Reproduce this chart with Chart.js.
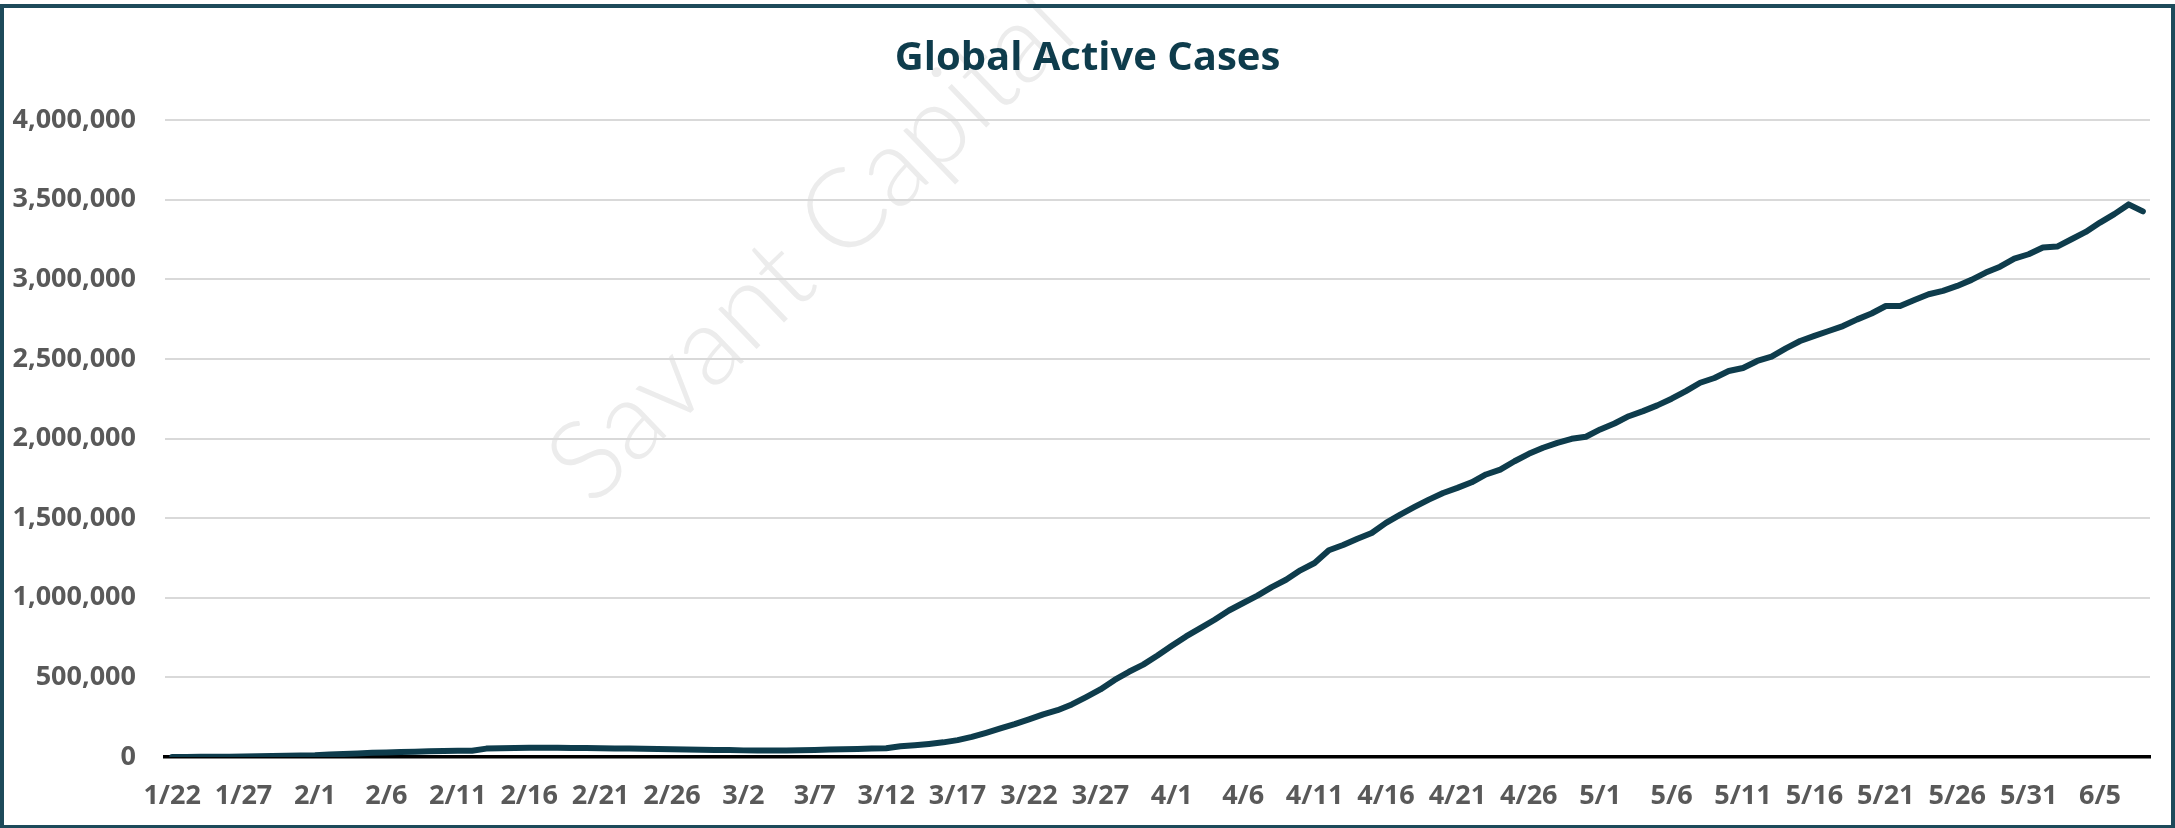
<!DOCTYPE html>
<html>
<head>
<meta charset="utf-8">
<script src="https://cdn.jsdelivr.net/npm/chart.js@4.4.0/dist/chart.umd.min.js"></script>
<style>
  html, body { margin: 0; padding: 0; background: #fff; }
  #myChart { display: block; }
</style>
</head>
<body>
<canvas id="myChart" width="2175" height="828"></canvas>
<script>
// dates on the x axis, one per day
const dates = [
  "1/22","1/23","1/24","1/25","1/26","1/27","1/28","1/29","1/30","1/31",
  "2/1","2/2","2/3","2/4","2/5","2/6","2/7","2/8","2/9","2/10",
  "2/11","2/12","2/13","2/14","2/15","2/16","2/17","2/18","2/19","2/20",
  "2/21","2/22","2/23","2/24","2/25","2/26","2/27","2/28","2/29",
  "3/1","3/2","3/3","3/4","3/5","3/6","3/7","3/8","3/9","3/10",
  "3/11","3/12","3/13","3/14","3/15","3/16","3/17","3/18","3/19","3/20",
  "3/21","3/22","3/23","3/24","3/25","3/26","3/27","3/28","3/29","3/30","3/31",
  "4/1","4/2","4/3","4/4","4/5","4/6","4/7","4/8","4/9","4/10",
  "4/11","4/12","4/13","4/14","4/15","4/16","4/17","4/18","4/19","4/20",
  "4/21","4/22","4/23","4/24","4/25","4/26","4/27","4/28","4/29","4/30",
  "5/1","5/2","5/3","5/4","5/5","5/6","5/7","5/8","5/9","5/10",
  "5/11","5/12","5/13","5/14","5/15","5/16","5/17","5/18","5/19","5/20",
  "5/21","5/22","5/23","5/24","5/25","5/26","5/27","5/28","5/29","5/30","5/31",
  "6/1","6/2","6/3","6/4","6/5","6/6","6/7","6/8"
];

// global active cases
const activeCases = [
  510, 600, 880, 1360, 2010, 2780, 5340, 5920, 7800, 9370,
  11490, 16110, 18860, 22640, 26150, 28640, 31260, 33230, 35370, 37470,
  38900, 39410, 52660, 55710, 56860, 57770, 58470, 58190, 57040, 55940,
  55710, 53300, 53350, 51600, 49700, 48200, 46500, 45300, 44600,
  43400, 41600, 40900, 40900, 41200, 42600, 44700, 46500, 47900, 50300,
  52800, 55300, 67000, 74000, 82000, 92000, 106000, 126000, 152000, 180000,
  206000, 236000, 268000, 294000, 330000, 376000, 424000, 484000, 535000, 580000, 637000,
  698000, 757000, 809000, 862000, 920000, 967000, 1013000, 1067000, 1113000, 1172000,
  1218000, 1298000, 1331000, 1371000, 1407000, 1470000, 1522000, 1570000, 1616000, 1658000,
  1690000, 1725000, 1774000, 1805000, 1857000, 1904000, 1942000, 1973000, 1998000, 2011000,
  2057000, 2094000, 2140000, 2172000, 2208000, 2250000, 2298000, 2350000, 2380000, 2424000,
  2443000, 2487000, 2514000, 2566000, 2612000, 2644000, 2675000, 2706000, 2748000, 2785000,
  2832000, 2832000, 2870000, 2906000, 2927000, 2958000, 2996000, 3042000, 3079000, 3130000, 3157000,
  3199000, 3205000, 3251000, 3297000, 3356000, 3409000, 3470000, 3426000
];

const labelEvery = 5;
const yMax = 4000000;
const yStep = 500000;

const teal = '#0e3c4c';
const tickGray = '#595959';

// faint watermark + frame around the picture
const decorPlugin = {
  id: 'decor',
  beforeDraw(chart) {
    const ctx = chart.ctx;
    ctx.save();
    ctx.fillStyle = '#ececec';
    ctx.font = '300 111px Lato, "Open Sans", sans-serif';
    ctx.textBaseline = 'alphabetic';
    ctx.translate(592, 508);
    ctx.rotate(-44 * Math.PI / 180);
    ctx.fillText('Savant Capital', 0, 0);
    ctx.restore();
  },
  afterDraw(chart) {
    const ctx = chart.ctx;
    ctx.save();
    ctx.strokeStyle = '#1d4a5a';
    ctx.lineWidth = 4;
    ctx.strokeRect(2, 6, chart.width - 4, chart.height - 7);
    ctx.restore();
  }
};

new Chart(document.getElementById('myChart'), {
  type: 'line',
  data: {
    labels: dates,
    datasets: [{
      label: 'Global Active Cases',
      data: activeCases,
      borderColor: teal,
      backgroundColor: teal,
      borderWidth: 6,
      pointRadius: 0,
      tension: 0,
      borderCapStyle: 'round',
      borderJoinStyle: 'round',
      fill: false
    }]
  },
  options: {
    responsive: false,
    animation: false,
    devicePixelRatio: 1,
    layout: {
      padding: { left: 0, right: 0, top: 0, bottom: 0 }
    },
    plugins: {
      legend: { display: false },
      tooltip: { enabled: false },
      title: {
        display: true,
        text: 'Global Active Cases',
        color: teal,
        font: { family: '"Open Sans", sans-serif', size: 40, weight: 'bold' },
        padding: { top: 35, bottom: 37 }
      }
    },
    scales: {
      x: {
        offset: true,
        grid: { display: false, drawTicks: false },
        border: { display: true, color: '#000000', width: 3.5 },
        ticks: {
          autoSkip: false,
          maxRotation: 0,
          minRotation: 0,
          padding: 23,
          color: tickGray,
          font: { family: '"Open Sans", sans-serif', size: 27, weight: 'bold' },
          callback: function(val, idx) {
            return idx % labelEvery === 0 ? dates[idx] : '';
          }
        },
        afterFit: function(scale) { scale.height = 71; }
      },
      y: {
        min: 0,
        max: yMax,
        grid: { color: '#d9d9d9', lineWidth: 2, drawTicks: false },
        border: { display: false },
        ticks: {
          stepSize: yStep,
          padding: 29,
          color: tickGray,
          font: { family: '"Open Sans", sans-serif', size: 27, weight: 'bold' },
          callback: function(v) { return v.toLocaleString('en-US'); }
        },
        afterFit: function(scale) { scale.width = 165; }
      },
      // empty strip on the right so the plot ends where the original does
      yRight: {
        position: 'right',
        min: 0,
        max: yMax,
        grid: { display: false, drawTicks: false },
        border: { display: false },
        ticks: { display: false },
        afterFit: function(scale) { scale.width = 25; }
      }
    }
  },
  plugins: [decorPlugin]
});
</script>
</body>
</html>
